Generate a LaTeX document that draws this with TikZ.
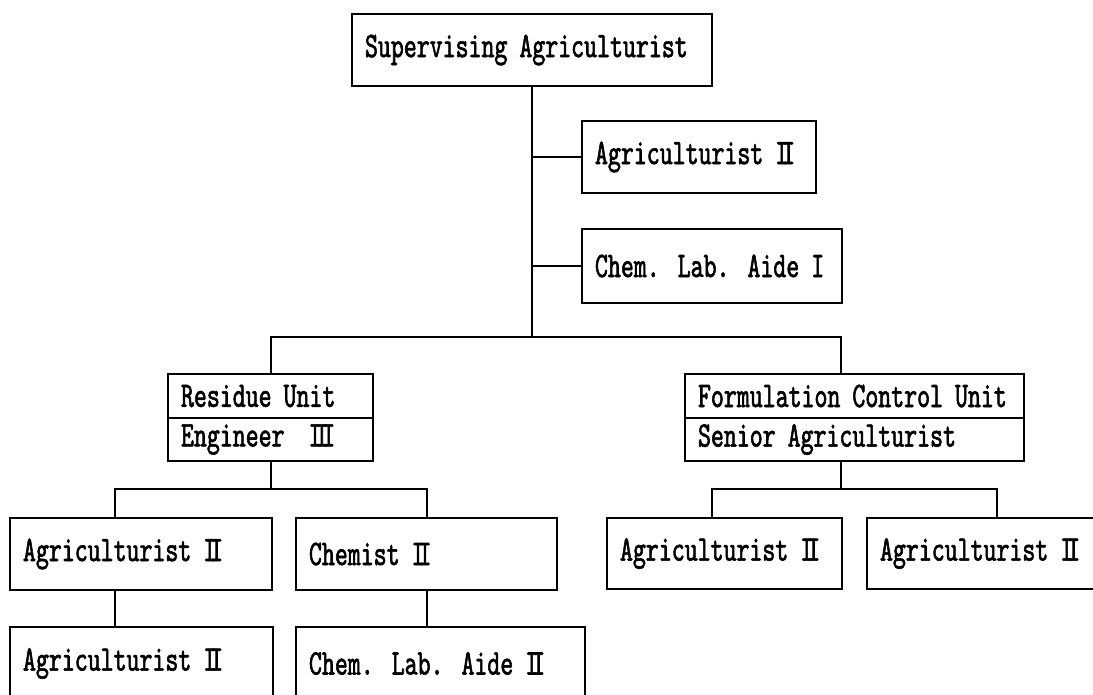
\documentclass[tikz,border=0pt]{standalone}
\usepackage{fontspec}
\newfontfamily\orgfont[FakeStretch=0.685,FakeBold=1.6]{lmmono10-regular.otf}
\newcommand{\romtwo}{I\kern-.17em I}
\newcommand{\romthree}{I\kern-.17em I\kern-.17em I}

\begin{document}
\begin{tikzpicture}[x=1pt,y=-1pt]
  \tikzstyle{post} = [draw, line width=1.5pt, inner xsep=13pt, inner ysep=0pt, align=left, font=\orgfont\fontsize{36}{38}\selectfont]
  \tikzstyle{e} = [line width=2pt];
  \clip (0,0) rectangle (1093,694);
  \fill[white] (0,0) rectangle (1093,694);

  \node[post, text width=334pt, minimum height=72pt](sup) at (532,50){Supervising Agriculturist};
  \node[post, text width=208pt, minimum height=72pt](agA) at (699,157){Agriculturist \romtwo};
  \node[post, text width=234pt, minimum height=74pt](aide1) at (712,266){Chem. Lab. Aide I};

  \node[post, text width=179pt, minimum height=44pt](res1) at (270.5,396){Residue Unit};
  \node[post, text width=179pt, minimum height=43pt](res2) at (270.5,439.5){Engineer~~\romthree};
  \node[post, text width=313pt, minimum height=44pt](fcu1) at (854.5,396){Formulation Control Unit};
  \node[post, text width=313pt, minimum height=43pt](fcu2) at (854.5,439.5){Senior Agriculturist};

  \node[post, text width=236pt, minimum height=72pt](agL1) at (141,554){Agriculturist \romtwo};
  \node[post, text width=235pt, minimum height=72pt](chem2) at (426.5,554){Chemist \romtwo};
  \node[post, text width=237pt, minimum height=73pt](agL2) at (141.5,663.5){Agriculturist \romtwo};
  \node[post, text width=263pt, minimum height=73pt](aide2) at (440.5,663.5){Chem. Lab. Aide \romtwo};
  \node[post, text width=209pt, minimum height=71pt](agR1) at (724.5,553.5){Agriculturist \romtwo};
  \node[post, text width=217pt, minimum height=71pt](agR2) at (988.5,553.5){Agriculturist \romtwo};

  \coordinate (b1) at (532,337);
  \coordinate (jf) at (841,337);
  \coordinate (b2) at (270.5,489);
  \coordinate (d1) at (115,489);
  \coordinate (d2) at (427,489);
  \coordinate (d3) at (712,489);
  \coordinate (d4) at (997,489);

  \draw[e](sup.south)--(b1);
  \draw[e](sup.south |- agA.west)--(agA.west);
  \draw[e](sup.south |- aide1.west)--(aide1.west);
  \draw[e](res1.north) |- (jf)--(jf |- fcu1.north);

  \draw[e](res2.south)--(b2);
  \draw[e](d1 |- agL1.north)--(d1)--(d2)--(d2 |- chem2.north);
  \draw[e](d1 |- agL1.south)--(d1 |- agL2.north);
  \draw[e](d2 |- chem2.south)--(d2 |- aide2.north);

  \draw[e](jf |- fcu2.south)--(jf |- d3);
  \draw[e](d3 |- agR1.north)--(d3)--(d4)--(d4 |- agR2.north);
\end{tikzpicture}
\end{document}
